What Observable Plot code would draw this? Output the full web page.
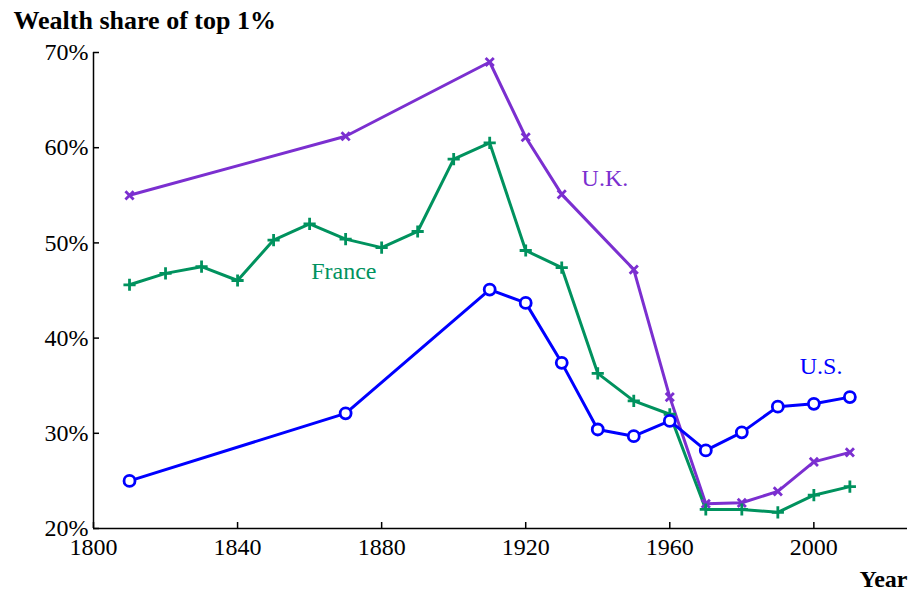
<!DOCTYPE html>
<html><head><meta charset="utf-8">
<script src="https://cdn.jsdelivr.net/npm/d3@7"></script>
<script src="https://cdn.jsdelivr.net/npm/@observablehq/plot@0.6"></script>
<style>
body{margin:0;background:#fff}
svg{font-family:"Liberation Serif","Times New Roman",serif}
</style>
</head><body><div id="chart"></div>
<script>
const ukYears = [1810,1870,1910,1920,1930,1950,1960,1970,1980,1990,2000,2010];
const ukValues = [55.0,61.2,69.0,61.1,55.1,47.2,33.8,22.6,22.7,23.9,27.0,28.0];
const franceYears = [1810,1820,1830,1840,1850,1860,1870,1880,1890,1900,1910,1920,1930,1940,1950,1960,1970,1980,1990,2000,2010];
const franceValues = [45.6,46.8,47.5,46.05,50.3,52.0,50.4,49.5,51.2,58.8,60.5,49.2,47.4,36.3,33.4,32.0,22.0,22.0,21.7,23.5,24.4];
const usYears = [1810,1870,1910,1920,1930,1940,1950,1960,1970,1980,1990,2000,2010];
const usValues = [25.0,32.1,45.1,43.7,37.4,30.4,29.7,31.3,28.2,30.1,32.8,33.1,33.8];
const xTicks = [1800,1840,1880,1920,1960,2000];
const yTicks = [20,30,40,50,60,70];
const seriesNames = ["U.K.","France","U.S."];
const labelYears = [1942,1869.5,2002];
const labelValues = [56.8,47.0,37.0];
const colors = {"U.K.":"#7b2fd0","France":"#00925e","U.S.":"#0000ff"};

const uk = ukYears.map((x,i)=>({x, y: ukValues[i]}));
const fr = franceYears.map((x,i)=>({x, y: franceValues[i]}));
const us = usYears.map((x,i)=>({x, y: usValues[i]}));
const labels = seriesNames.map((name,i)=>({name, x: labelYears[i], y: labelValues[i]}));

const chart = Plot.plot({
  width: 911, height: 591,
  marginLeft: 93, marginRight: 4, marginTop: 52, marginBottom: 63,
  style: {fontSize: "24px", fontFamily: "'Liberation Serif','Times New Roman',serif", background: "#fff"},
  x: {domain: [1800, 2026]},
  y: {domain: [20, 70]},
  marks: [
    Plot.ruleX([1800], {stroke: "#000", strokeWidth: 1.5}),
    Plot.ruleY([20], {stroke: "#000", strokeWidth: 1.5}),
    Plot.tickX(xTicks, {x: d=>d, insetTop: 470, stroke: "#000", strokeWidth: 1.5}),
    Plot.tickY(yTicks, {y: d=>d, insetRight: 808, stroke: "#000", strokeWidth: 1.5}),
    Plot.axisX({ticks: xTicks, tickSize: 0, tickPadding: 9, label: null, tickFormat: d=>String(d), fill: "#000"}),
    Plot.axisY({ticks: yTicks, tickSize: 0, tickPadding: 5, label: null, tickFormat: d=>d+"%", fill: "#000"}),
    Plot.line(uk, {x:"x", y:"y", stroke: colors["U.K."], strokeWidth: 3}),
    Plot.line(fr, {x:"x", y:"y", stroke: colors["France"], strokeWidth: 3}),
    Plot.line(us, {x:"x", y:"y", stroke: colors["U.S."], strokeWidth: 3}),
    Plot.dot(uk, {x:"x", y:"y", symbol: "times", r: 3.8, stroke: colors["U.K."], strokeWidth: 2.8}),
    Plot.dot(fr, {x:"x", y:"y", symbol: "plus", r: 4, stroke: colors["France"], strokeWidth: 2.8}),
    Plot.dot(us, {x:"x", y:"y", symbol: "circle", r: 5.5, stroke: colors["U.S."], strokeWidth: 2.8, fill: "#fff"}),
    Plot.text(labels, {x:"x", y:"y", text:"name", fill: d=>colors[d.name], fontSize: 24}),
    Plot.text(["Wealth share of top 1%"], {frameAnchor: "top-left", textAnchor: "start", lineAnchor: "bottom", dx: -80, dy: -24, fontSize: 26, fontWeight: "bold", fill: "#000"}),
    Plot.text(["Year"], {frameAnchor: "bottom-right", textAnchor: "end", lineAnchor: "bottom", dx: 0, dy: 58, fontSize: 24, fontWeight: "bold", fill: "#000"})
  ]
});
document.getElementById("chart").appendChild(chart);
</script>
</body></html>
